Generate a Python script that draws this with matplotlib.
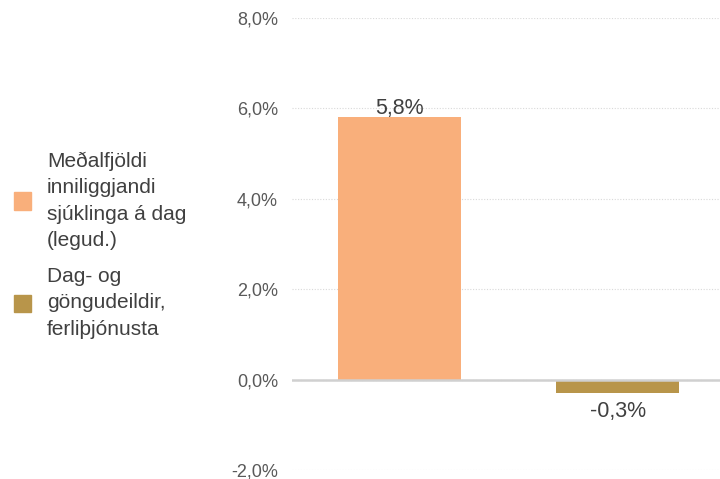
import matplotlib.pyplot as plt
from matplotlib.patches import Rectangle
from matplotlib.ticker import FuncFormatter

# data
categories = ["Meðalfjöldi\ninniliggjandi\nsjúklinga á dag\n(legud.)",
              "Dag- og\ngöngudeildir,\nferliþjónusta"]
values = [5.8, -0.3]
colors = ["#F9AF7B", "#B8954A"]
yticks = [-2, 0, 2, 4, 6, 8]

plt.rcParams["font.family"] = ["Liberation Sans", "DejaVu Sans"]

fig = plt.figure(figsize=(7.2, 4.79), dpi=100)
ax = fig.add_axes([292 / 720, 9 / 479, 428 / 720, 452 / 479])

x = list(range(len(values)))
ax.bar(x, values, width=0.563, color=colors, zorder=3)

ax.set_xlim(-0.492, 1.467)
ax.set_ylim(-2, 8)
ax.set_yticks(yticks)
ax.yaxis.set_major_formatter(FuncFormatter(lambda v, p: f"{v:.1f}%".replace(".", ",")))
ax.tick_params(axis="y", length=0, pad=10, labelsize=13, labelcolor="#595959")
ax.set_xticks([])
for s in ax.spines.values():
    s.set_visible(False)
ax.grid(axis="y", color="#D9D9D9", linestyle=(0, (1, 1.5)), linewidth=0.8, zorder=0)
ax.axhline(0, color="#D0D0D0", linewidth=1.8, zorder=4)

for xi, v in zip(x, values):
    lbl = f"{v:.1f}%".replace(".", ",")
    if v >= 0:
        ax.annotate(lbl, (xi, v), xytext=(0, -1), textcoords="offset points",
                    ha="center", va="bottom", fontsize=15.5, color="#404040")
    else:
        ax.annotate(lbl, (xi, v), xytext=(0, -6), textcoords="offset points",
                    ha="center", va="top", fontsize=15.5, color="#404040")

# legend on the left, built by hand
legend_y = [201, 303]
for label, col, yc in zip(categories, colors, legend_y):
    fy = 1 - yc / 479
    fig.patches.append(Rectangle((14 / 720, fy - 8.5 / 479), 17 / 720, 17 / 479,
                                 transform=fig.transFigure, color=col))
    fig.text(47 / 720, fy, label, ha="left", va="center", fontsize=15,
             color="#404040", linespacing=1.5)

fig.savefig("out.png", dpi=100)
